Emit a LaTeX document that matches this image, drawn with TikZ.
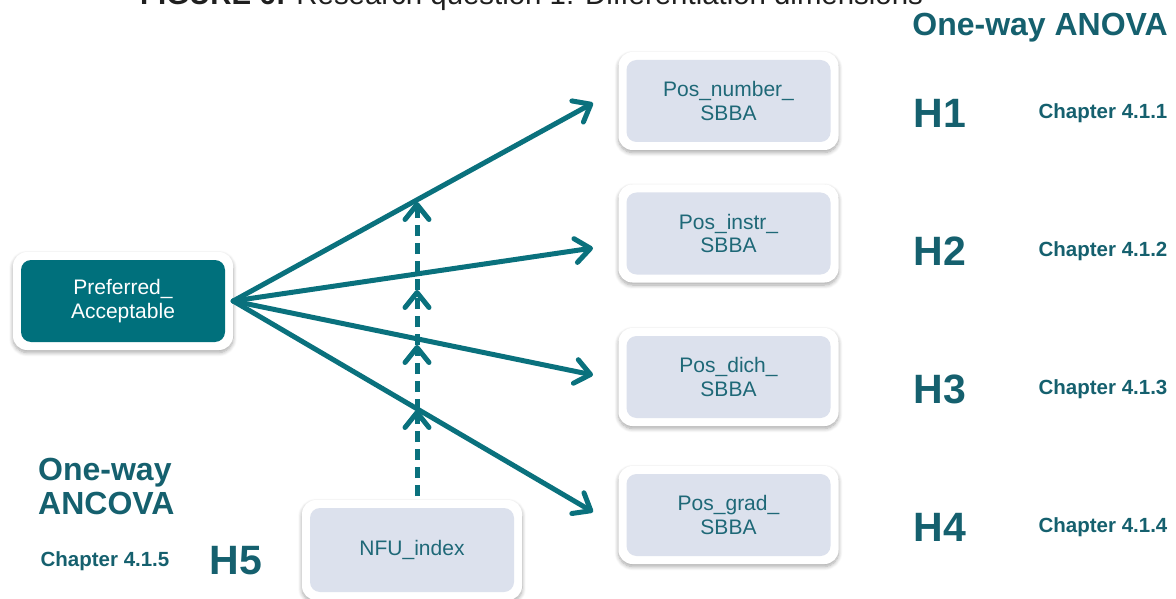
\documentclass[tikz,border=0pt]{standalone}
\usepackage{fontspec}
\setmainfont{Liberation Sans}
\usetikzlibrary{arrows.meta,shadows.blur}

\definecolor{cardteal}{HTML}{00707C}
\definecolor{lineteal}{HTML}{0A717D}
\definecolor{headteal}{HTML}{15606E}
\definecolor{cardfill}{HTML}{DCE1ED}
\definecolor{cardtext}{HTML}{1E6877}
\newcommand\setfs[2]{\fontsize{#1}{#2}\selectfont}

\begin{document}
\begin{tikzpicture}[x=1pt,y=-1pt,
  card/.style={rounded corners=14pt, fill=white, draw=none,
    minimum width=220pt, minimum height=98pt, inner sep=0pt, align=center,
    text=cardtext, font=\setfs{21}{23.5},
    blur shadow={shadow xshift=0pt, shadow yshift=-2.5pt, shadow opacity=35,
      shadow blur radius=4pt, shadow blur steps=8},
    path picture={\fill[#1, rounded corners=10pt]
      ([xshift=8pt,yshift=-8pt]path picture bounding box.north west) rectangle
      ([xshift=-8pt,yshift=8pt]path picture bounding box.south east);}},
  card/.default=cardfill,
  darkcard/.style={card=cardteal, text=white},
  link/.style={draw=lineteal, line width=5pt, line cap=round,
    -{Straight Barb[length=15pt,width=24pt,line cap=round,line join=round]}},
  dlink/.style={link, dash pattern=on 11pt off 7pt, line cap=butt},
  head/.style={text=headteal, font=\bfseries\setfs{32}{34}, inner sep=0pt},
  hyp/.style={text=headteal, font=\bfseries\setfs{41}{44}, inner sep=0pt},
  chap/.style={text=headteal, font=\bfseries\setfs{20.5}{22}, inner sep=0pt}
]
\useasboundingbox (0,0) rectangle (1176,599);

% caption, partly above the page edge
\node[anchor=base west, inner sep=0pt, text=black!88, font=\setfs{29.4}{32}] (caption)
  at (140,5) {\textbf{FIGURE 6:} Research question 1: Differentiation dimensions};

% variable boxes
\node[darkcard] (pa) at (123,301) {Preferred\_\\Acceptable};
\node[card] (n1) at (728.5,101) {Pos\_number\_\\SBBA};
\node[card] (n2) at (728.5,233.5) {Pos\_instr\_\\SBBA};
\node[card] (n3) at (728.5,377) {Pos\_dich\_\\SBBA};
\node[card] (n4) at (728.5,515) {Pos\_grad\_\\SBBA};
\node[card, minimum height=100pt] (nfu) at (412,550) {NFU\_index};

% arrow tips
\coordinate (t1) at (593,103);
\coordinate (t2) at (593,248);
\coordinate (t3) at (593,375);
\coordinate (t4) at (593,512);

\draw[link] (pa.east) -- (t1);
\draw[link] (pa.east) -- (t2);
\draw[link] (pa.east) -- (t3);
\draw[link] (pa.east) -- (t4);

% moderator path
\coordinate (m1) at (417,202);
\coordinate (m2) at (417,290);
\coordinate (m3) at (417,345);
\coordinate (m4) at (417,410);
\coordinate (m0) at (417,496);

\draw[dlink] (m0) -- (m4);
\draw[dlink] (m4) -- (m3);
\draw[dlink] (m3) -- (m2);
\draw[dlink] (m2) -- (m1);

% headings and hypotheses
\node[head, anchor=east] (anova) at (1168,28) {One-way ANOVA};
\node[hyp] (h1) at (940,113) {H1};
\node[hyp] (h2) at (940,251) {H2};
\node[hyp] (h3) at (940,389) {H3};
\node[hyp] (h4) at (940,527) {H4};
\node[chap] (c1) at (1103,113) {Chapter 4.1.1};
\node[chap] (c2) at (1103,251) {Chapter 4.1.2};
\node[chap] (c3) at (1103,389) {Chapter 4.1.3};
\node[chap] (c4) at (1103,527) {Chapter 4.1.4};

\node[head, anchor=west, align=left] (ancova) at (38,486) {One-way\\ANCOVA};
\node[chap] (c5) at (105,561) {Chapter 4.1.5};
\node[hyp] (h5) at (236,561) {H5};
\end{tikzpicture}
\end{document}
